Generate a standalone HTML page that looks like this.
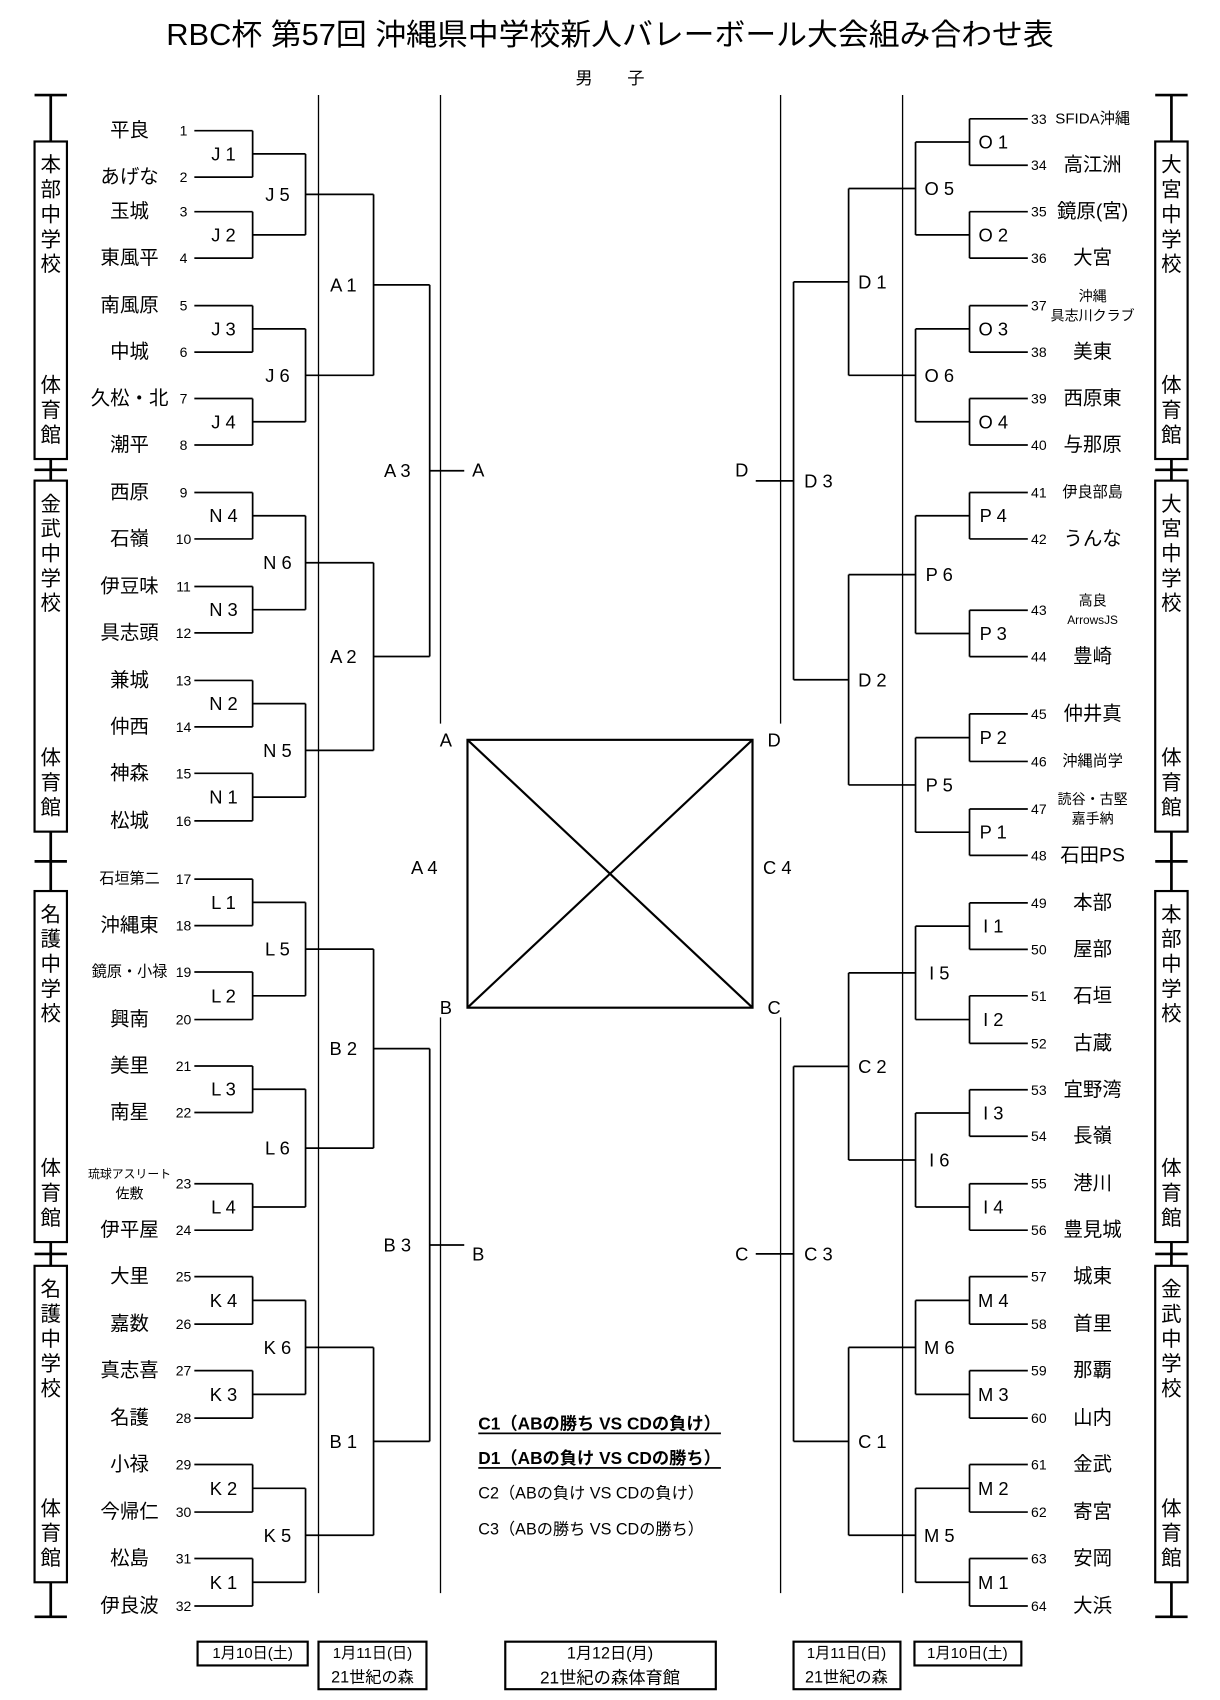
<!DOCTYPE html>
<html><head><meta charset="utf-8"><style>
html,body{margin:0;padding:0;background:#fff;width:1220px;height:1700px;overflow:hidden}
svg{display:block}
text{font-family:"Liberation Sans","Noto Sans CJK JP",sans-serif;fill:#000}
</style></head><body>
<svg id="s" width="1220" height="1700" viewBox="0 0 1130 1574" preserveAspectRatio="none" xmlns="http://www.w3.org/2000/svg"></svg>
<script>
const s=document.getElementById('s');let h='';
const L=(x1,y1,x2,y2,w)=>h+=`<line x1="${x1}" y1="${y1}" x2="${x2}" y2="${y2}" stroke="#000" stroke-width="${w||1.6}"/>`;
const T=(x,y,t,fs,a,extra)=>h+=`<text x="${x}" y="${y}" font-size="${fs}" text-anchor="${a||'middle'}" dominant-baseline="central" ${extra||''}>${t}</text>`;
const R=(x,y,w,hh,sw)=>h+=`<rect x="${x}" y="${y}" width="${w}" height="${hh}" fill="none" stroke="#000" stroke-width="${sw||1.6}"/>`;
T(565,33,'RBC杯 第57回 沖縄県中学校新人バレーボール大会組み合わせ表',28,'middle','textLength="822" lengthAdjust="spacingAndGlyphs"');
T(565,72,'男　　子',16);
const ly=[121,164,196,239,283,326,369,412,456,499,543,586,630,673,716,760,814,857,900,944,987,1030,1096,1139,1182,1226,1269,1313,1356,1400,1443,1487];
const ry=[110,153,196,239,283,326,369,412,456,499,565,608,661,705,749,792,836,879,922,966,1009,1052,1096,1139,1182,1226,1269,1313,1356,1400,1443,1487];
const ln=['平良','あげな','玉城','東風平','南風原','中城','久松・北','潮平','西原','石嶺','伊豆味','具志頭','兼城','仲西','神森','松城','*石垣第二','沖縄東','*鏡原・小禄','興南','美里','南星','#琉球アスリート|佐敷','伊平屋','大里','嘉数','真志喜','名護','小禄','今帰仁','松島','伊良波'];
const rn=['*SFIDA沖縄','高江洲','鏡原(宮)','大宮','#沖縄|具志川クラブ','美東','西原東','与那原','*伊良部島','うんな','#高良|ArrowsJS','豊崎','仲井真','*沖縄尚学','#読谷・古堅|嘉手納','石田PS','本部','屋部','石垣','古蔵','宜野湾','長嶺','港川','豊見城','城東','首里','那覇','山内','金武','寄宮','安岡','大浜'];
function name(x,y,n){
 if(n[0]=='*'){T(x,y,n.slice(1),14);}
 else if(n[0]=='#'){const p=n.slice(1).split('|');T(x,y-9,p[0],p[0].length>6?11:13);T(x,y+9,p[1],p[1].length>6?11:13);}
 else T(x,y,n,18);
}
const lab1=['J 1','J 2','J 3','J 4','N 4','N 3','N 2','N 1','L 1','L 2','L 3','L 4','K 4','K 3','K 2','K 1'];
const lab2=['J 5','J 6','N 6','N 5','L 5','L 6','K 6','K 5'];
const lab3=['A 1','A 2','B 2','B 1'];
const lab4=['A 3','B 3'];
const rl1=['O 1','O 2','O 3','O 4','P 4','P 3','P 2','P 1','I 1','I 2','I 3','I 4','M 4','M 3','M 2','M 1'];
const rl2=['O 5','O 6','P 6','P 5','I 5','I 6','M 6','M 5'];
const rl3=['D 1','D 2','C 2','C 1'];
const rl4=['D 3','C 3'];
function side(ys,names,dir,X,labs){
 for(let i=0;i<32;i++){name(X[0],ys[i],names[i]);T(X[1],ys[i],String(dir<0?i+1:i+33),13,dir<0?'middle':'start');L(X[2],ys[i],X[3],ys[i]);}
 let m1=[];for(let i=0;i<16;i++){const a=ys[2*i],b=ys[2*i+1];L(X[3],a,X[3],b);const m=(a+b)/2;m1.push(m);T(X[3]+(dir<0?-27:22),m,labs[0][i],17);L(X[3],m,X[4],m);}
 let m2=[];for(let i=0;i<8;i++){const a=m1[2*i],b=m1[2*i+1];L(X[4],a,X[4],b);const m=(a+b)/2;m2.push(m);T(X[4]+(dir<0?-26:22),m,labs[1][i],17);L(X[4],m,X[5],m);}
 let m3=[];for(let i=0;i<4;i++){const a=m2[2*i],b=m2[2*i+1];L(X[5],a,X[5],b);const m=(a+b)/2;m3.push(m);T(X[5]+(dir<0?-28:22),m,labs[2][i],17);L(X[5],m,X[6],m);}
 for(let i=0;i<2;i++){const a=m3[2*i],b=m3[2*i+1];L(X[6],a,X[6],b);const m=(a+b)/2;T(X[6]+(dir<0?-30:23),m,labs[3][i],17);L(X[6],m,X[7],m);}
}
side(ly,ln,-1,[120,170,180,234,283,346,398,430],[lab1,lab2,lab3,lab4]);
side(ry,rn,1,[1012,955,952,898,848,786,735,700],[rl1,rl2,rl3,rl4]);
T(443,435,'A',17);T(443,1161,'B',17);T(687,435,'D',17);T(687,1161,'C',17);
L(295,88,295,1475,1.2);L(836,88,836,1475,1.2);
L(408,88,408,670,1.2);L(408,942,408,1475,1.2);L(723,88,723,670,1.2);L(723,942,723,1475,1.2);
R(433,685,264,248,2);L(433,685,697,933,2);L(697,685,433,933,2);
T(413,685,'A',17);T(717,685,'D',17);T(413,933,'B',17);T(717,933,'C',17);T(393,803,'A 4',17);T(720,803,'C 4',17);
T(443,1318,'C1（ABの勝ち VS CDの負け）',16,'start','font-weight="bold" text-decoration="underline"');
T(443,1350,'D1（ABの負け VS CDの勝ち）',16,'start','font-weight="bold" text-decoration="underline"');
T(443,1383,'C2（ABの負け VS CDの負け）',15,'start');
T(443,1416,'C3（ABの勝ち VS CDの勝ち）',15,'start');
function sbox(cx,segs,labels){
 const x=cx-15;
 L(cx-15,88,cx+15,88,2.5);L(cx,88,cx,131,2.5);
 segs.forEach((sg,i)=>{R(x,sg[0],30,sg[1]-sg[0],2);
  const t=labels[i];for(let k=0;k<5;k++)T(cx,sg[0]+22+k*23,t[k],19);
  const b='体育館';for(let k=0;k<3;k++)T(cx,sg[1]-68+k*23,b[k],19);
 });
 for(let i=0;i<segs.length-1;i++){const a=segs[i][1],b=segs[i+1][0];L(cx,a,cx,b,2.5);const m=(a+b)/2;L(cx-15,m,cx+15,m,2.5);}
 L(cx,1465,cx,1497,2.5);L(cx-15,1497,cx+15,1497,2.5);
}
const segs=[[131,425],[445,770],[825,1150],[1172,1465]];
sbox(47,segs,['本部中学校','金武中学校','名護中学校','名護中学校']);
sbox(1085,segs,['大宮中学校','大宮中学校','本部中学校','金武中学校']);
R(183,1520,102,22,2);T(234,1531,'1月10日(土)',14);
R(295,1520,100,44,2);T(345,1531,'1月11日(日)',14);T(345,1553,'21世紀の森',15);
R(468,1520,195,44,2);T(565,1531,'1月12日(月)',15);T(565,1553,'21世紀の森体育館',16);
R(735,1520,99,44,2);T(784,1531,'1月11日(日)',14);T(784,1553,'21世紀の森',15);
R(847,1520,99,22,2);T(896,1531,'1月10日(土)',14);
s.innerHTML=h;
</script>
</body></html>
